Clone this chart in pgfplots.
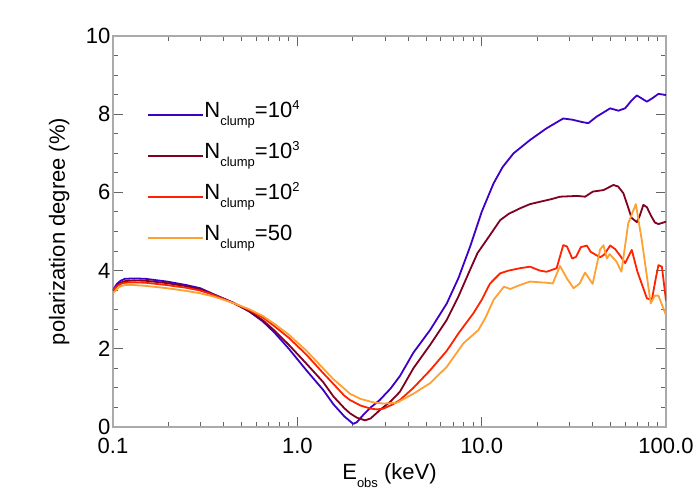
\documentclass[border=0pt]{standalone}
\usepackage{pgfplots}
\pgfplotsset{compat=1.18}
\usepackage{fontspec}
\setmainfont{Liberation Sans}

\definecolor{cblue}{RGB}{60,0,200}
\definecolor{cdred}{RGB}{128,0,32}
\definecolor{cred}{RGB}{255,34,0}
\definecolor{corange}{RGB}{255,160,50}
\definecolor{axgray}{RGB}{170,170,170}
\definecolor{tkgray}{RGB}{100,100,100}

\newcommand{\lo}[1]{\raisebox{-8pt}{\fontsize{13}{13}\selectfont #1}}
\newcommand{\hi}[1]{\raisebox{8pt}{\fontsize{13}{13}\selectfont #1}}

\begin{document}
\begin{tikzpicture}
\path[use as bounding box] (-113pt,-73pt) rectangle (587pt,427pt);
\begin{axis}[
    at={(0,0)}, anchor=south west,
    scale only axis,
    width=553pt, height=391pt,
    xmode=log,
    xmin=0.1, xmax=100,
    ymin=0, ymax=10,
    xtick={0.1,1,10,100},
    xticklabels={0.1,1.0,10.0,100.0},
    ytick={0,2,4,6,8,10},
    minor y tick num=3,
    xtick pos=both, ytick pos=both,
    tick align=inside,
    major tick length=10pt,
    minor tick length=5pt,
    axis line style={draw=axgray, line width=1.6pt},
    major tick style={draw=tkgray, line width=1pt},
    minor tick style={draw=tkgray, line width=1pt},
    font=\fontsize{22}{26}\selectfont,
    /pgf/number format/assume math mode=true,
    xlabel={E\lo{obs} (keV)},
    ylabel={polarization degree (\%)},
    every axis x label/.style={at={(rel axis cs:0.5,0)}, anchor=north, yshift=-33pt},
    every axis y label/.style={at={(rel axis cs:0,0.5)}, anchor=south, rotate=90, yshift=40pt},
    yticklabel style={xshift=1pt},
    xticklabel style={yshift=-8pt},
    legend style={at={(rel axis cs:0.055,0.84)}, anchor=north west, draw=none, fill=none,
        legend cell align=left, row sep=13pt,
        nodes={inner sep=1pt, text height=16pt, text depth=10pt}},
    legend image code/.code={\draw[#1] (0pt,0pt) -- (55pt,0pt);},
    every axis plot/.append style={line width=1.8pt, line join=round},
]
\addplot[cblue] coordinates {
(0.1,3.50) (0.105,3.66) (0.11,3.74) (0.116,3.79) (0.13,3.80) (0.15,3.79)
(0.196,3.72) (0.25,3.63) (0.297,3.55) (0.35,3.40) (0.45,3.18) (0.55,2.95)
(0.65,2.70) (0.75,2.42) (0.9,2.00) (1.12,1.45) (1.38,0.95) (1.57,0.58)
(1.8,0.27) (1.93,0.15) (2.01,0.08) (2.1,0.12) (2.3,0.33) (2.5,0.50)
(2.8,0.69) (3.2,0.98) (3.6,1.30) (4.26,1.90) (5.25,2.48) (6.47,3.16)
(7.5,3.82) (8.65,4.61) (10.0,5.50) (11.6,6.23) (13.0,6.65) (14.9,7.00)
(18.3,7.34) (22.5,7.64) (27.7,7.89) (31,7.86) (35,7.80) (37.9,7.77)
(42.1,7.94) (46,8.05) (49.8,8.15) (55.2,8.09) (60,8.15) (65,8.35)
(69.5,8.48) (74,8.40) (78.8,8.32) (85,8.42) (91,8.52) (100,8.49)
};
\addlegendentry{N\lo{clump}=10\hi{4}}
\addplot[cdred] coordinates {
(0.1,3.48) (0.105,3.62) (0.11,3.69) (0.116,3.73) (0.13,3.75) (0.15,3.74)
(0.196,3.68) (0.25,3.60) (0.297,3.52) (0.35,3.39) (0.45,3.17) (0.55,2.96)
(0.65,2.73) (0.75,2.47) (0.9,2.10) (1.12,1.62) (1.38,1.15) (1.57,0.78)
(1.8,0.48) (1.93,0.35) (2.1,0.24) (2.33,0.17) (2.5,0.22) (2.8,0.43)
(3.2,0.65) (3.6,0.90) (4.26,1.50) (5.25,2.10) (6.47,2.74) (7.5,3.35)
(8.65,4.02) (9.5,4.45) (10.7,4.80) (12.6,5.29) (14.0,5.45) (16.1,5.59)
(18.3,5.70) (20.7,5.76) (24,5.83) (26.6,5.89) (33,5.91) (36.4,5.89)
(40.1,6.02) (45.8,6.06) (51.9,6.19) (55,6.15) (58.7,5.98) (62,5.65)
(65,5.35) (69.5,5.24) (72,5.40) (75.4,5.68) (78.8,5.62) (83,5.40)
(87,5.23) (91,5.19) (100,5.25)
};
\addlegendentry{N\lo{clump}=10\hi{3}}
\addplot[cred] coordinates {
(0.1,3.50) (0.105,3.60) (0.11,3.66) (0.116,3.69) (0.13,3.70) (0.15,3.69)
(0.196,3.63) (0.25,3.56) (0.297,3.49) (0.35,3.38) (0.45,3.17) (0.55,2.99)
(0.65,2.80) (0.75,2.58) (0.9,2.28) (1.12,1.85) (1.38,1.38) (1.57,1.10)
(1.8,0.80) (1.93,0.69) (2.2,0.55) (2.5,0.47) (2.7,0.45) (2.93,0.47)
(3.3,0.58) (3.6,0.69) (4.26,1.00) (5.25,1.45) (6.47,1.95) (7.5,2.40)
(9.02,2.91) (10.0,3.25) (11.1,3.67) (12.6,3.93) (14,4.00) (16.1,4.06)
(18.3,4.10) (20.7,4.00) (22.5,3.97) (25.5,4.06) (27.7,4.65) (29,4.62)
(31,4.31) (32.5,4.35) (34.5,4.60) (37.2,4.64) (39,4.48) (43.9,4.34)
(46,4.40) (49.8,4.64) (53,4.55) (57,4.35) (60,4.19) (65.2,4.53)
(70,3.97) (78.8,3.29) (83.8,3.25) (88,3.80) (91,4.14) (95,4.10) (100,3.23)
};
\addlegendentry{N\lo{clump}=10\hi{2}}
\addplot[corange] coordinates {
(0.1,3.42) (0.105,3.53) (0.11,3.60) (0.116,3.63) (0.13,3.63) (0.15,3.61)
(0.196,3.55) (0.25,3.48) (0.297,3.42) (0.35,3.34) (0.45,3.17) (0.55,3.01)
(0.65,2.84) (0.75,2.64) (0.9,2.36) (1.12,1.95) (1.38,1.50) (1.57,1.22)
(1.8,0.98) (1.93,0.85) (2.2,0.72) (2.58,0.63) (2.93,0.60) (3.46,0.62)
(4.26,0.85) (5.25,1.12) (6.47,1.54) (7.96,2.14) (9.6,2.48) (10.5,2.80)
(11.6,3.25) (13.2,3.59) (14.3,3.53) (16.1,3.63) (18.3,3.72) (20.7,3.70)
(22.5,3.69) (24.3,3.67) (26.6,4.12) (29,3.80) (31.5,3.55) (34,3.67)
(36.4,3.95) (40,3.66) (43.9,4.54) (45.8,4.65) (47.7,4.31) (49.5,4.42)
(53.9,4.23) (57.3,3.97) (62.4,5.21) (68.6,5.70) (73.9,4.78) (82.6,3.16)
(87,3.36) (91,3.36) (100,2.86)
};
\addlegendentry{N\lo{clump}=50}
\end{axis}
\end{tikzpicture}
\end{document}
